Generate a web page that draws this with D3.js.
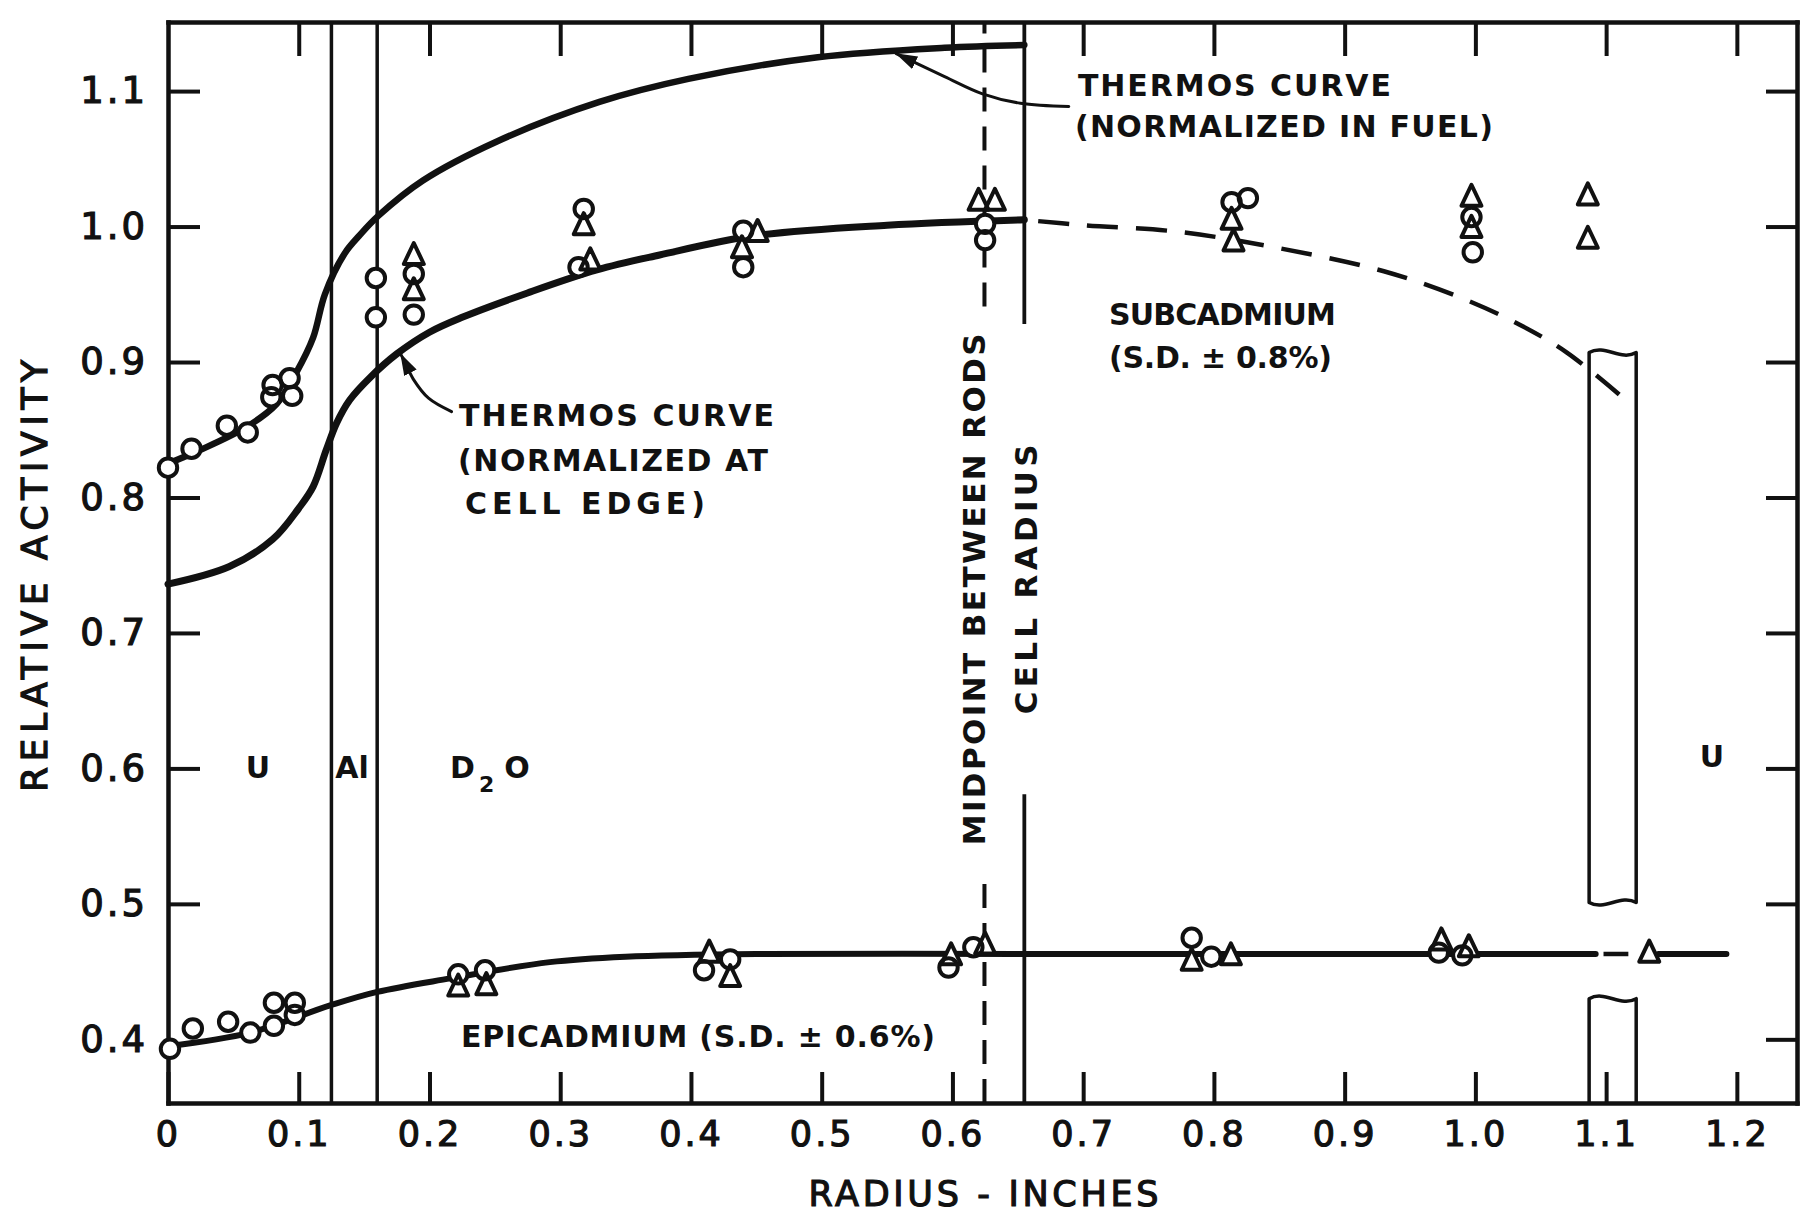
<!DOCTYPE html>
<html>
<head>
<meta charset="utf-8">
<script src="https://cdn.jsdelivr.net/npm/d3@7"></script>
<style>
  html, body { margin: 0; padding: 0; background: #fff; }
  svg { display: block; }
  text { font-family: "DejaVu Sans", sans-serif; fill: #111; }
</style>
</head>
<body>
<svg id="chart" width="1800" height="1215"></svg>
<script>
// Data: [radius in inches, relative activity]
const xTicks = [0, 0.1, 0.2, 0.3, 0.4, 0.5, 0.6, 0.7, 0.8, 0.9, 1.0, 1.1, 1.2];
const yTicks = [0.4, 0.5, 0.6, 0.7, 0.8, 0.9, 1.0, 1.1];

const subCircles = [[0, 0.822], [0.018, 0.836], [0.045, 0.853], [0.061, 0.848], [0.079, 0.874], [0.080, 0.883],
  [0.093, 0.888], [0.095, 0.875], [0.159, 0.962], [0.159, 0.933], [0.188, 0.965], [0.188, 0.935],
  [0.314, 0.970], [0.318, 1.013], [0.440, 0.997], [0.440, 0.970], [0.625, 1.002], [0.625, 0.990],
  [0.8135, 1.018], [0.826, 1.021], [0.997, 1.007], [0.998, 0.981]];
const subTriangles = [[0.188, 0.979], [0.188, 0.953], [0.318, 1.001], [0.323, 0.975], [0.451, 0.996], [0.439, 0.984],
  [0.620, 1.019], [0.6325, 1.019], [0.8135, 1.005], [0.815, 0.989], [0.997, 1.022], [0.997, 0.999],
  [1.086, 1.023], [1.086, 0.991]];
const epiCircles = [[0.0015, 0.393], [0.019, 0.408], [0.046, 0.413], [0.063, 0.405], [0.081, 0.427], [0.081, 0.410],
  [0.097, 0.427], [0.097, 0.418], [0.222, 0.448], [0.2425, 0.451], [0.410, 0.451], [0.430, 0.459],
  [0.597, 0.453], [0.616, 0.468], [0.783, 0.475], [0.798, 0.461], [0.972, 0.464], [0.990, 0.462]];
const epiTriangles = [[0.222, 0.439], [0.2435, 0.440], [0.414, 0.464], [0.430, 0.446], [0.599, 0.462], [0.625, 0.470],
  [0.783, 0.458], [0.813, 0.462], [0.974, 0.473], [0.995, 0.468], [1.133, 0.464]];

// THERMOS curves
const fuelCurve = [[0, 0.825], [0.0245, 0.835], [0.060, 0.852], [0.083, 0.869], [0.098, 0.892], [0.111, 0.918],
  [0.120, 0.950], [0.135, 0.980], [0.147, 0.994], [0.161, 1.008], [0.195, 1.034], [0.252, 1.063],
  [0.330, 1.092], [0.398, 1.109], [0.497, 1.125], [0.594, 1.132], [0.655, 1.134]];
const cellCurve = [[0, 0.736], [0.047, 0.749], [0.080, 0.769], [0.100, 0.792], [0.111, 0.808], [0.121, 0.835],
  [0.129, 0.855], [0.139, 0.872], [0.155, 0.889], [0.175, 0.906], [0.200, 0.922], [0.225, 0.933],
  [0.275, 0.951], [0.328, 0.968], [0.376, 0.979], [0.447, 0.993], [0.550, 1.001], [0.655, 1.005]];
const subDashed = [[0.655, 1.005], [0.700, 1.001], [0.774, 0.996], [0.850, 0.984], [0.930, 0.967],
  [0.990, 0.947], [1.035, 0.927], [1.070, 0.907], [1.110, 0.876]];
const epiCurve = [[0, 0.395], [0.063, 0.405], [0.124, 0.425], [0.160, 0.435], [0.216, 0.445], [0.292, 0.457],
  [0.350, 0.461], [0.450, 0.463], [0.650, 0.463], [0.800, 0.463], [1.000, 0.463], [1.092, 0.463]];
const epiGap = [[1.098, 0.463], [1.117, 0.463]];
const epiEnd = [[1.140, 0.463], [1.192, 0.463]];

// cell geometry (inches) and where the vertical lines are broken for text
const alBounds = [0.125, 0.16];
const midpoint = 0.6245, midpointGap = [0.520, 0.941];
const cellRadius = 0.655, cellGap = [0.581, 0.928];
const rodEdges = [1.087, 1.123], rodTop = 0.907, rodBreak = [0.501, 0.430];

// annotation arrows
const fuelArrow = [[0.689, 1.0886], [0.652, 1.091], [0.623, 1.098], [0.594, 1.1107], [0.557, 1.1276]];
const cellArrow = [[0.2169, 0.8634], [0.1993, 0.8733], [0.1876, 0.8874], [0.1818, 0.8987], [0.178, 0.9058]];

// Layout
const ink = "#111";
const svg = d3.select("#chart");
const x = d3.scaleLinear().domain([0, 1.246]).range([168, 1797]);
const y = d3.scaleLinear().domain([0.353, 1.151]).range([1103, 22]);
const [xLeft, xRight] = x.range(), [yBottom, yTop] = y.range();

const line = d3.line().x(d => x(d[0])).y(d => y(d[1])).curve(d3.curveCatmullRom.alpha(0.5));
const straight = d3.line().x(d => x(d[0])).y(d => y(d[1]));

svg.append("defs").append("marker")
  .attr("id", "head")
  .attr("markerUnits", "userSpaceOnUse")
  .attr("viewBox", "0 0 22 14").attr("refX", 21).attr("refY", 7)
  .attr("markerWidth", 22).attr("markerHeight", 14)
  .attr("orient", "auto")
  .append("path").attr("d", "M0,0 L22,7 L0,14 Z").attr("fill", ink);

// Axes / frame
const styleAxis = g => {
  g.attr("font-size", null).attr("font-family", null);
  g.select(".domain").attr("stroke", ink).attr("stroke-width", 4.5).attr("stroke-linecap", "square");
  g.selectAll(".tick line").attr("stroke", ink).attr("stroke-width", 4);
};
svg.append("g").attr("transform", `translate(0,${yBottom})`)
  .call(d3.axisBottom(x).tickValues(xTicks).tickSizeInner(-31).tickSizeOuter(0).tickPadding(18)
    .tickFormat(d => d === 0 ? "0" : d3.format(".1f")(d)))
  .call(styleAxis)
  .call(g => g.selectAll("text").attr("font-size", 35).attr("letter-spacing", 3)
    .attr("stroke", ink).attr("stroke-width", 1.2).attr("fill", ink));
svg.append("g").attr("transform", `translate(${xLeft},0)`)
  .call(d3.axisLeft(y).tickValues(yTicks).tickSizeInner(-32).tickSizeOuter(0).tickPadding(20)
    .tickFormat(d3.format(".1f")))
  .call(styleAxis)
  .call(g => g.selectAll(".tick").filter(d => d === 0.4).select("line").remove())
  .call(g => g.selectAll("text").attr("font-size", 37).attr("letter-spacing", 3)
    .attr("stroke", ink).attr("stroke-width", 1.2).attr("fill", ink));
svg.append("g").attr("transform", `translate(0,${yTop})`)
  .call(d3.axisTop(x).tickValues(xTicks.slice(1)).tickSizeInner(-34).tickSizeOuter(0).tickFormat(""))
  .call(styleAxis);
svg.append("g").attr("transform", `translate(${xRight},0)`)
  .call(d3.axisRight(y).tickValues(yTicks).tickSizeInner(-31).tickSizeOuter(0).tickFormat(""))
  .call(styleAxis);

// region boundaries
const guides = svg.append("g").attr("stroke", ink).attr("fill", "none");
alBounds.forEach(v => guides.append("line")
  .attr("x1", x(v)).attr("x2", x(v)).attr("y1", yBottom).attr("y2", yTop).attr("stroke-width", 3.5));
[[y.domain()[0], midpointGap[0]], [midpointGap[1], y.domain()[1]]].forEach(([a, b]) => guides.append("line")
  .attr("x1", x(midpoint)).attr("x2", x(midpoint)).attr("y1", y(a)).attr("y2", y(b))
  .attr("stroke-width", 4).attr("stroke-dasharray", "24 15"));
[[y.domain()[0], cellGap[0]], [cellGap[1], y.domain()[1]]].forEach(([a, b]) => guides.append("line")
  .attr("x1", x(cellRadius)).attr("x2", x(cellRadius)).attr("y1", y(a)).attr("y2", y(b))
  .attr("stroke-width", 3.8));

// broken U rod of neighbouring cell
const wave = (x0, x1, yy) => {
  const w = x1 - x0;
  return `C${x0 + w / 3},${yy - 9} ${x0 + 2 * w / 3},${yy + 9} ${x1},${yy}`;
};
const [rl, rr] = rodEdges.map(x);
const upperPiece = `M${rl},${y(rodBreak[0])} L${rl},${y(rodTop)} ${wave(rl, rr, y(rodTop))} L${rr},${y(rodBreak[0])} ` +
  `C${rr - (rr - rl) / 3},${y(rodBreak[0]) - 9} ${rl + (rr - rl) / 3},${y(rodBreak[0]) + 9} ${rl},${y(rodBreak[0])} Z`;
const lowerPiece = `M${rl},${yBottom} L${rl},${y(rodBreak[1])} ${wave(rl, rr, y(rodBreak[1]))} L${rr},${yBottom}`;
guides.selectAll("path.rod").data([upperPiece, lowerPiece]).join("path")
  .attr("class", "rod").attr("d", d => d).attr("stroke-width", 3.5).attr("stroke-linejoin", "round");

// curves
const curves = svg.append("g").attr("fill", "none").attr("stroke", ink)
  .attr("stroke-linecap", "round").attr("stroke-linejoin", "round");
curves.append("path").attr("d", line(fuelCurve)).attr("stroke-width", 6.5);
curves.append("path").attr("d", line(cellCurve)).attr("stroke-width", 7);
curves.append("path").attr("d", line(epiCurve)).attr("stroke-width", 6);
curves.append("path").attr("d", straight(epiGap)).attr("stroke-width", 4.5).attr("stroke-linecap", "butt");
curves.append("path").attr("d", straight(epiEnd)).attr("stroke-width", 6);
curves.append("path").attr("d", line(subDashed)).attr("stroke-width", 4.5)
  .attr("stroke-linecap", "butt").attr("stroke-dasharray", "31 18").attr("stroke-dashoffset", -14);
curves.append("path").attr("d", line(fuelArrow)).attr("stroke-width", 3).attr("marker-end", "url(#head)");
curves.append("path").attr("d", line(cellArrow)).attr("stroke-width", 3).attr("marker-end", "url(#head)");

// data points: white fills first, outlines on top, like ink on paper
const circles = subCircles.concat(epiCircles), triangles = subTriangles.concat(epiTriangles);
const tri = "M0,-12 L10,9 L-10,9 Z";
const pts = svg.append("g");
["fill", "stroke"].forEach(layer => {
  const g = pts.append("g")
    .attr("fill", layer === "fill" ? "#fff" : "none")
    .attr("stroke", layer === "fill" ? "none" : ink)
    .attr("stroke-width", 4).attr("stroke-linejoin", "round");
  g.selectAll("circle").data(circles).join("circle")
    .attr("cx", d => x(d[0])).attr("cy", d => y(d[1])).attr("r", 9.2);
  g.selectAll("path").data(triangles).join("path")
    .attr("d", tri).attr("transform", d => `translate(${x(d[0])},${y(d[1])})`);
});

// text
const notes = [
  { t: "THERMOS CURVE", x: 0.696, y: 1.0963, w: 313 },
  { t: "(NORMALIZED IN FUEL)", x: 0.6937, y: 1.066, w: 418 },
  { t: "THERMOS CURVE", x: 0.2226, y: 0.8526, w: 315 },
  { t: "(NORMALIZED AT", x: 0.2218, y: 0.8193, w: 310 },
  { t: "CELL EDGE)", x: 0.2272, y: 0.7876, w: 240 },
  { t: "SUBCADMIUM", x: 0.7197, y: 0.9272, w: 227 },
  { t: "(S.D. ± 0.8%)", x: 0.7197, y: 0.8954, w: 223 },
  { t: "EPICADMIUM (S.D. ± 0.6%)", x: 0.2241, y: 0.394, w: 474 }
];
svg.append("g").selectAll("text").data(notes).join("text")
  .attr("x", d => x(d.x)).attr("y", d => y(d.y))
  .attr("font-size", 30).attr("font-weight", "bold")
  .attr("textLength", d => d.w).attr("lengthAdjust", "spacing")
  .text(d => d.t);

const regions = [
  { t: "U", x: 0.0688, y: 0.5926 },
  { t: "Al", x: 0.1407, y: 0.5926 },
  { t: "U", x: 1.181, y: 0.6007 }
];
svg.append("g").selectAll("text").data(regions).join("text")
  .attr("x", d => x(d.x)).attr("y", d => y(d.y)).attr("text-anchor", "middle")
  .attr("font-size", 30).attr("font-weight", "bold").text(d => d.t);
const d2o = svg.append("text").attr("x", x(0.2157)).attr("y", y(0.5926))
  .attr("font-size", 30).attr("font-weight", "bold");
d2o.append("tspan").text("D");
d2o.append("tspan").attr("dx", 4).attr("dy", 14).attr("font-size", 22).text("2");
d2o.append("tspan").attr("dx", 10).attr("dy", -14).text("O");

const vertical = [
  { t: "MIDPOINT BETWEEN RODS", x: 0.6252, y: 0.7322, w: 512 },
  { t: "CELL RADIUS", x: 0.665, y: 0.7396, w: 270 }
];
svg.append("g").selectAll("text").data(vertical).join("text")
  .attr("transform", d => `translate(${x(d.x)},${y(d.y)}) rotate(-90)`)
  .attr("text-anchor", "middle").attr("font-size", 31).attr("font-weight", "bold")
  .attr("textLength", d => d.w).attr("lengthAdjust", "spacing")
  .text(d => d.t);

// axis titles
svg.append("text").attr("x", (808 + 1159) / 2).attr("y", 1206).attr("text-anchor", "middle")
  .attr("font-size", 35).attr("textLength", 350).attr("lengthAdjust", "spacing")
  .attr("stroke", ink).attr("stroke-width", 1.2)
  .text("RADIUS - INCHES");
svg.append("text").attr("transform", "translate(47,576) rotate(-90)").attr("text-anchor", "middle")
  .attr("font-size", 36).attr("textLength", 432).attr("lengthAdjust", "spacing")
  .attr("stroke", ink).attr("stroke-width", 1.3)
  .text("RELATIVE ACTIVITY");
</script>
</body>
</html>
